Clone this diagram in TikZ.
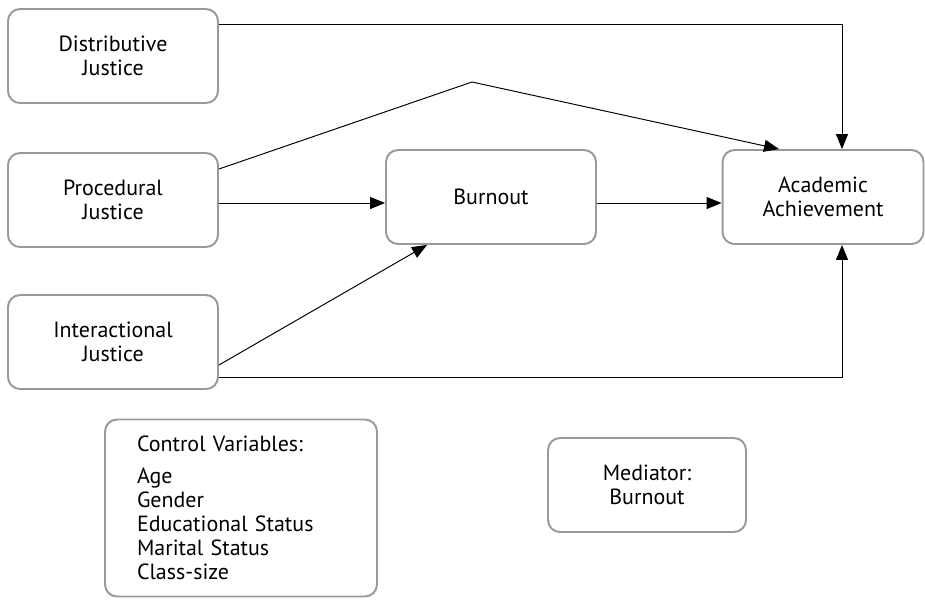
\documentclass[tikz,border=0pt]{standalone}
\usepackage{fontspec}
\setmainfont{PT Sans}
\usetikzlibrary{arrows.meta}

\begin{document}
\begin{tikzpicture}[x=0.02cm, y=-0.02cm,
  every node/.style={rectangle, rounded corners=0.24cm, draw=gray!80, line width=1.1pt, align=center, font=\fontsize{12.5}{13.6}\selectfont},
  box/.style={minimum width=4.2cm, minimum height=1.88cm},
  arr/.style={-{Triangle[length=0.3cm,width=0.24cm]}, line width=0.55pt}]

\useasboundingbox (0,0) rectangle (925,599);

\node[box] (dist) at (113,56) {Distributive\\Justice};
\node[box] (proc) at (113,200) {Procedural\\Justice};
\node[box] (inter) at (113,342) {Interactional\\Justice};
\node[box] (burn) at (491,197) {Burnout};
\node[box, minimum width=4.02cm] (acad) at (823,197) {Academic\\Achievement};

\node[text width=4.16cm, inner xsep=0.64cm, minimum height=3.54cm, align=left] (ctrl) at (241,508) {Control Variables:\\[0.16cm]Age\\Gender\\Educational Status\\Marital Status\\Class-size};
\node[minimum width=3.96cm, minimum height=1.88cm] (med) at (647,485) {Mediator:\\Burnout};

\coordinate (peak) at (472,82);

% frecce
\draw[arr] (dist.east |- 0,24) -| (acad.north -| 842,0);
\draw[arr] (proc.east |- 0,169) -- (peak) -- (acad.north -| 779,0);
\draw[arr] (proc.east |- 0,203) -- (burn.west |- 0,203);
\draw[arr] (burn.east |- 0,203) -- (acad.west |- 0,203);
\draw[arr] (inter.east |- 0,365) -- (burn.south -| 427,0);
\draw[arr] (inter.east |- 0,377) -| (acad.south -| 842,0);

\end{tikzpicture}
\end{document}
